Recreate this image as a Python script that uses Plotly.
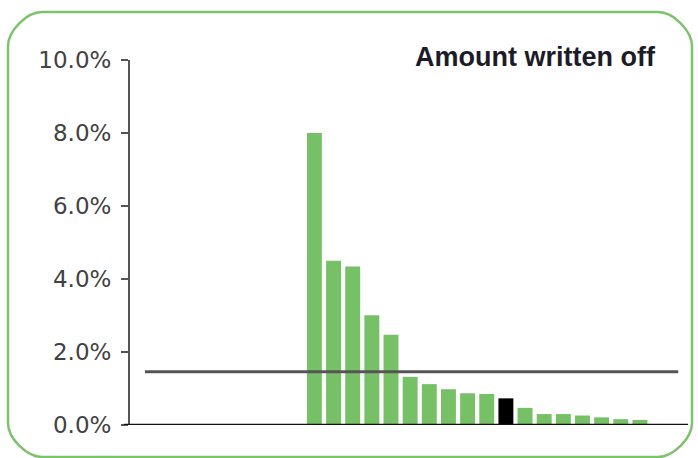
import plotly.graph_objects as go

# Share of amount written off per entity, ranked; the highlighted entity is drawn in black
positions = list(range(28))
written_off_pct = [0, 0, 0, 0, 0, 0, 0, 0, 0,
                   8.0, 4.5, 4.34, 3.01, 2.47, 1.32, 1.12, 0.98, 0.87, 0.85,
                   0.73, 0.47, 0.30, 0.30, 0.26, 0.21, 0.16, 0.14, 0]
highlight_index = 19
average_pct = 1.46

y_ticks = [0, 2, 4, 6, 8, 10]
y_tick_labels = ["0.0%", "2.0%", "4.0%", "6.0%", "8.0%", "10.0%"]

W, H = 698, 458
L, R, T, B = 130, 10, 60, 33
PW, PH = W - L - R, H - T - B


def px(x):
    return (x - L) / PW


def py(y):
    return (H - B - y) / PH


bar_colors = ["#000000" if i == highlight_index else "#76c166" for i in positions]

fig = go.Figure()
fig.add_trace(go.Bar(
    x=positions,
    y=written_off_pct,
    marker=dict(color=bar_colors, line=dict(width=0)),
    hovertemplate="%{y:.2f}%<extra></extra>",
))

# Rounded green frame around the whole panel
x0, x1, y0, y1, r = 8, 692, 12, 457, 34
k = 0.45 * r
frame = (
    f"M {px(x0 + r)} {py(y0)} L {px(x1 - r)} {py(y0)} "
    f"C {px(x1 - r + k)} {py(y0)} {px(x1)} {py(y0 + r - k)} {px(x1)} {py(y0 + r)} "
    f"L {px(x1)} {py(y1 - r)} "
    f"C {px(x1)} {py(y1 - r + k)} {px(x1 - r + k)} {py(y1)} {px(x1 - r)} {py(y1)} "
    f"L {px(x0 + r)} {py(y1)} "
    f"C {px(x0 + r - k)} {py(y1)} {px(x0)} {py(y1 - r + k)} {px(x0)} {py(y1 - r)} "
    f"L {px(x0)} {py(y0 + r)} "
    f"C {px(x0)} {py(y0 + r - k)} {px(x0 + r - k)} {py(y0)} {px(x0 + r)} {py(y0)} Z"
)

fig.update_layout(
    width=W, height=H,
    margin=dict(l=L, r=R, t=T, b=B),
    paper_bgcolor="white", plot_bgcolor="white",
    showlegend=False,
    bargap=0.22,
    font=dict(family="DejaVu Sans", color="#444444"),
    xaxis=dict(
        range=[-0.63, 28.51],
        showticklabels=False, ticks="", showgrid=False, zeroline=False,
        showline=False,
    ),
    yaxis=dict(
        range=[0, 10],
        tickvals=y_ticks, ticktext=y_tick_labels,
        ticks="outside", ticklen=7, tickwidth=2, tickcolor="#555555",
        ticklabelstandoff=5,
        tickfont=dict(family="DejaVu Sans", size=23, color="#424242"),
        showline=True, linecolor="#555555", linewidth=2,
        showgrid=False, zeroline=False,
    ),
    shapes=[
        # average reference line
        dict(type="line", xref="x", yref="y", x0=0.15, x1=28.0,
             y0=average_pct, y1=average_pct,
             line=dict(color="#555555", width=3), layer="above"),
        # baseline along zero
        dict(type="line", xref="paper", yref="y", x0=px(124), x1=px(688),
             y0=0, y1=0, line=dict(color="#111111", width=2.5), layer="above"),
        dict(type="path", xref="paper", yref="paper", path=frame,
             line=dict(color="#7cc46a", width=2.5), layer="below"),
    ],
    annotations=[
        dict(text="<b>Amount written off</b>", xref="paper", yref="paper",
             x=px(658), y=py(57), xanchor="right", yanchor="middle",
             showarrow=False,
             font=dict(family="Liberation Sans", size=27, color="#1c1c28")),
    ],
)

fig.write_html("out.html")
